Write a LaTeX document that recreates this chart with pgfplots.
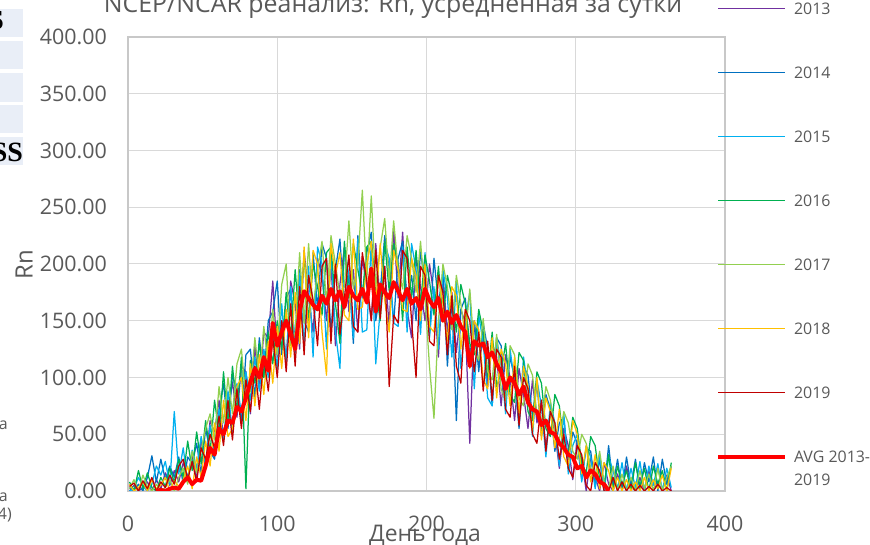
\documentclass[border=0pt]{standalone}
\usepackage{pgfplots}
\pgfplotsset{compat=1.18}
\usepackage{pgfplotstable}
\usepackage{fontspec}
\setmainfont{Open Sans}
\newfontfamily\lserif{Liberation Serif}
\definecolor{tickgray}{HTML}{595959}
\definecolor{gridgray}{HTML}{D9D9D9}
\definecolor{axisgray}{HTML}{C8C8C8}
\definecolor{boxcol}{HTML}{E9EEF7}
\definecolor{c13}{HTML}{7030A0}
\definecolor{c14}{HTML}{0070C0}
\definecolor{c15}{HTML}{00B0F0}
\definecolor{c16}{HTML}{00B050}
\definecolor{c17}{HTML}{92D050}
\definecolor{c18}{HTML}{FFC000}
\definecolor{c19}{HTML}{C00000}
\definecolor{cavg}{HTML}{FF0000}

\pgfplotstableread{
day y13 y14 y15 y16 y17 y18 y19 avg
1 0 3 0 8 2 6 4 nan
4 5 0 2 0 10 0 7 nan
7 0 6 12 18 0 3 0 nan
10 3 0 4 2 14 8 9 nan
13 8 12 0 16 4 0 2 nan
16 0 31 6 3 0 10 12 nan
19 10 8 22 0 6 2 0 0
22 2 28 14 12 0 5 8 1
25 16 10 26 4 3 12 3 0
28 5 22 6 20 10 0 14 2
31 18 12 70 8 0 9 6 3
34 8 30 15 28 12 4 22 2
37 25 6 38 12 20 10 28 8
40 12 30 8 44 6 22 10 12
43 32 24 36 18 35 2 26 6
46 10 42 20 52 16 30 8 10
49 45 15 48 24 36 12 38 9
52 22 55 20 62 55 44 28 22
55 62 35 58 34 68 22 50 38
58 52 28 32 80 45 60 38 32
61 80 70 72 50 92 35 66 55
64 48 95 45 105 60 80 40 50
67 70 55 88 58 100 48 80 62
70 96 102 52 110 68 55 45 60
73 65 88 95 70 112 92 90 74
76 110 62 68 118 125 100 55 70
79 105 120 105 2 80 62 98 82
82 68 125 80 115 88 112 70 96
85 128 82 118 95 135 75 110 108
88 90 135 88 130 98 120 72 100
91 140 100 125 100 145 85 118 118
94 135 150 100 140 110 132 88 106
97 185 158 140 112 160 95 135 148
100 118 185 108 150 120 145 100 128
103 150 120 165 125 182 108 150 140
106 115 170 112 175 200 160 105 150
109 185 178 180 135 128 118 165 138
112 165 130 122 195 140 175 110 125
115 125 195 192 145 210 130 180 158
118 212 150 128 208 148 215 120 176
121 170 140 198 150 218 135 190 170
124 140 210 118 200 160 212 168 164
127 205 160 215 180 195 200 128 160
130 190 218 200 155 220 140 198 172
133 150 205 125 210 165 102 205 165
136 200 140 210 215 225 218 130 178
139 128 195 140 165 200 190 200 168
142 182 222 108 130 172 210 138 176
145 215 160 215 220 180 155 170 162
148 158 190 190 170 238 150 208 180
151 195 130 135 218 178 222 145 172
154 140 225 222 195 200 160 140 168
157 205 170 140 172 265 162 210 178
160 180 210 142 215 185 200 185 166
163 150 228 218 220 260 220 150 196
166 218 150 112 178 180 165 212 158
169 165 175 160 150 215 218 152 182
172 198 225 218 220 240 168 198 175
175 145 195 205 176 185 140 92 170
178 232 148 148 218 238 212 155 184
181 170 205 145 200 195 195 148 176
184 228 220 215 150 178 160 212 168
187 160 168 140 215 225 158 205 178
190 135 190 218 170 205 205 150 165
193 205 150 195 212 175 190 100 170
196 180 212 138 165 220 150 198 160
199 150 180 210 208 170 200 190 178
202 200 138 135 185 110 145 132 168
205 172 205 180 155 64 140 128 162
208 118 165 125 198 150 190 190 170
211 190 192 195 150 200 165 175 150
214 140 110 170 190 180 132 120 158
217 175 170 118 172 142 180 172 148
220 122 62 185 140 190 172 110 155
223 160 160 108 182 165 125 95 145
226 148 170 150 165 135 160 160 140
229 42 118 175 130 178 108 150 110
232 150 150 90 120 125 150 105 132
235 110 105 155 160 115 142 140 128
238 135 148 130 140 152 98 88 130
241 92 125 82 100 105 90 132 118
244 130 75 75 140 98 135 80 122
247 118 135 135 92 138 82 125 112
250 75 128 110 105 90 125 118 105
253 120 80 68 130 80 112 72 90
256 100 118 125 85 128 75 65 100
259 62 100 95 78 120 118 110 95
262 108 55 62 122 82 68 58 85
265 85 110 118 115 75 110 100 92
268 55 102 90 70 112 92 90 78
271 98 65 48 62 102 52 50 72
274 60 95 98 105 68 100 42 70
277 80 48 75 95 60 45 80 58
280 38 85 30 55 92 82 35 62
283 70 72 78 48 80 70 70 52
286 52 35 60 85 52 38 60 50
289 20 60 22 75 45 72 28 42
292 55 65 68 40 70 30 50 38
295 40 25 15 32 60 22 20 32
298 10 52 40 65 35 62 12 30
301 45 42 50 55 28 50 40 20
304 28 10 8 24 50 15 32 22
307 0 38 40 16 42 40 5 12
310 30 35 30 48 20 8 0 18
313 12 4 2 40 14 32 25 15
316 0 28 32 10 35 2 18 8
319 25 0 0 5 8 25 0 6
322 6 40 30 32 2 18 0 0
325 0 5 18 0 22 0 12 nan
328 15 28 2 22 0 12 0 nan
331 0 0 25 5 15 0 8 nan
334 22 30 0 18 0 10 0 nan
337 4 5 20 0 12 0 6 nan
340 0 28 3 25 0 8 0 nan
343 12 0 26 4 18 0 5 nan
346 0 25 0 20 2 12 0 nan
349 18 8 22 0 15 0 4 nan
352 0 30 5 22 0 10 0 nan
355 8 0 24 6 20 2 6 nan
358 0 28 0 18 0 14 0 nan
361 14 6 20 0 12 0 3 nan
364 0 22 3 25 22 20 0 nan
}\rndata

\begin{document}
\begin{tikzpicture}[x=1bp,y=1bp]
\path[use as bounding box] (0,0) rectangle (870,545);
% fragments of neighbouring content at the left edge
\fill[boxcol] (0,508) rectangle (23,536);
\fill[boxcol] (0,476) rectangle (23,504);
\fill[boxcol] (0,443) rectangle (23,472);
\fill[boxcol] (0,412) rectangle (23,440);
\fill[boxcol] (0,380) rectangle (23,408);
\node[anchor=base east, inner sep=0pt, font=\lserif\bfseries\fontsize{28}{30}\selectfont] at (4,515) {S};
\node[anchor=base east, inner sep=0pt, font=\lserif\bfseries\fontsize{28}{30}\selectfont] at (23,383) {SS};
\node[anchor=base east, inner sep=0pt, text=tickgray, font=\fontsize{16}{19}\selectfont] at (8,115) {a};
\node[anchor=base east, inner sep=0pt, text=tickgray, font=\fontsize{16}{19}\selectfont] at (8,43) {a};
\node[anchor=base east, inner sep=0pt, text=tickgray, font=\fontsize{16}{19}\selectfont] at (12,25) {4)};
% title
\node[anchor=base, inner sep=0pt, text=tickgray, font=\fontsize{25}{30}\selectfont] at (393,532) {NCEP/NCAR реанализ: Rn, усредненная за сутки};
\begin{axis}[
  at={(128bp,54bp)}, anchor=south west,
  scale only axis, width=597bp, height=454bp,
  xmin=0, xmax=400, ymin=0, ymax=400,
  xtick={0,100,200,300,400}, ytick={0,50,...,400},
  grid=major, major grid style={draw=gridgray, line width=1bp},
  axis line style={draw=axisgray, line width=1.1bp},
  major tick length=0pt,
  /pgf/number format/assume math mode=true,
  tick label style={font=\fontsize{21.5}{25}\selectfont, text=tickgray, inner sep=0pt},
  yticklabel style={/pgf/number format/.cd, fixed, fixed zerofill, precision=2, /tikz/.cd, anchor=east, xshift=-21bp},
  xticklabel style={anchor=north, yshift=-25bp},
  ylabel={Rn},
  ylabel style={at={(axis description cs:-0.1742,0.4978)}, anchor=center, font=\fontsize{24}{28}\selectfont, text=tickgray, inner sep=0pt},
  xlabel={День года},
  xlabel style={at={(axis description cs:0.4975,-0.1123)}, anchor=base, font=\fontsize{23}{28}\selectfont, text=tickgray, inner sep=0pt},
  legend style={at={(0.98492,1.0755)}, anchor=north west, draw=none, fill=none,
    inner sep=0pt, outer sep=0pt, font=\fontsize{16}{23}\selectfont, text=tickgray,
    row sep=52bp, column sep=7bp,
    nodes={inner sep=0pt, text height=12bp, text depth=0bp}},
  legend cell align=left,
  legend image code/.code={\draw[#1] (0bp,0bp) -- (67bp,0bp);},
  every axis plot/.append style={line join=round},
]
\addplot[c13, line width=1.25bp] table[x=day, y=y13] {\rndata};
\addplot[c14, line width=1.25bp] table[x=day, y=y14] {\rndata};
\addplot[c15, line width=1.25bp] table[x=day, y=y15] {\rndata};
\addplot[c16, line width=1.25bp] table[x=day, y=y16] {\rndata};
\addplot[c17, line width=1.25bp] table[x=day, y=y17] {\rndata};
\addplot[c18, line width=1.25bp] table[x=day, y=y18] {\rndata};
\addplot[c19, line width=1.25bp] table[x=day, y=y19] {\rndata};
\addplot[cavg, line width=4bp] table[x=day, y=avg] {\rndata};
\legend{2013,2014,2015,2016,2017,2018,2019,{\smash{\begin{tabular}[t]{@{}l@{}}AVG 2013-\\2019\end{tabular}}}}
\end{axis}
\end{tikzpicture}
\end{document}
